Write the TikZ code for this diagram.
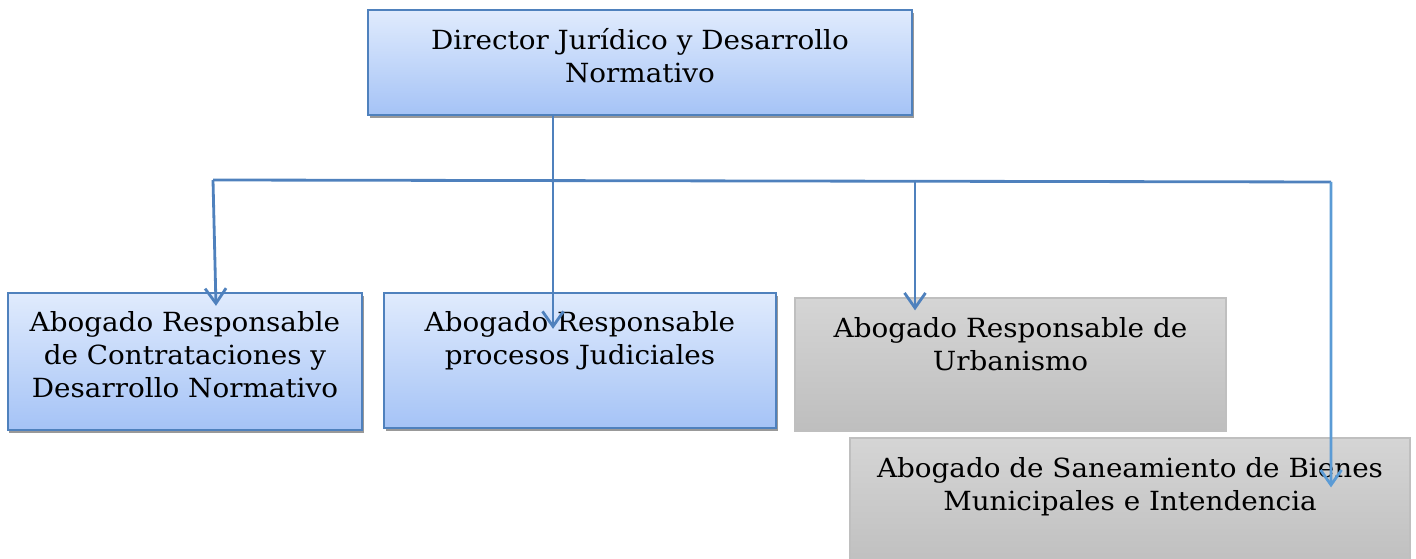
\documentclass[tikz,border=0pt]{standalone}
\usepackage{fontspec}
\setmainfont{DejaVu Serif}[FakeStretch=1.055]
\usetikzlibrary{calc,positioning,shadows,arrows.meta}
\definecolor{boxline}{HTML}{4F81BD}
\definecolor{boxtop}{HTML}{E0EBFD}
\definecolor{boxbot}{HTML}{A5C3F6}
\definecolor{greytop}{HTML}{D5D5D5}
\definecolor{greybot}{HTML}{BEBEBE}
\definecolor{greyline}{HTML}{BFBFBF}
\definecolor{linkdark}{HTML}{4F81BD}
\definecolor{linklight}{HTML}{5B9BD5}
\tikzset{
	bluebox/.style={draw=boxline, line width=1.3pt, top color=boxtop, bottom color=boxbot, inner sep=0pt,
		drop shadow={shadow xshift=0.03cm, shadow yshift=-0.07cm, fill=black!40, opacity=1}},
	greybox/.style={draw=greyline, line width=0.7pt, top color=greytop, bottom color=greybot, inner sep=0pt},
	boxtext/.style={align=center, inner sep=0pt, font=\fontsize{15}{18.8}\selectfont},
	link/.style={draw=linkdark, line width=1.6pt, -{Straight Barb[length=0.3cm, width=0.42cm]}},
	bus/.style={draw=linkdark, line width=1.6pt}
}

\begin{document}
\begin{tikzpicture}
		%%%%% START %%%%%
		\useasboundingbox (0, 0) rectangle (28.32, 11.18);
		
		\node[bluebox, minimum width=10.88cm, minimum height=2.1cm] (dir) at (12.8, 9.93) {};
		\node[boxtext, below=0.39cm of dir.north] (dirtxt) {Director Jurídico y Desarrollo\\Normativo};
		
		\node[bluebox, minimum width=7.08cm, minimum height=2.74cm] (con) at (3.7, 3.95) {};
		\node[boxtext, below=0.39cm of con.north] (contxt) {Abogado Responsable\\de Contrataciones y\\Desarrollo Normativo};
		
		\node[bluebox, minimum width=7.84cm, minimum height=2.7cm] (jud) at (11.6, 3.97) {};
		\node[boxtext, below=0.39cm of jud.north] (judtxt) {Abogado Responsable\\procesos Judiciales};
		
		\node[greybox, minimum width=8.62cm, minimum height=2.66cm] (urb) at (20.21, 3.89) {};
		\node[boxtext, below=0.39cm of urb.north] (urbtxt) {Abogado Responsable de\\Urbanismo};
		
		\node[greybox, minimum width=11.2cm, minimum height=2.7cm] (san) at (22.6, 1.07) {};
		\node[boxtext, below=0.39cm of san.north] (santxt) {Abogado de Saneamiento de Bienes\\Municipales e Intendencia};
		
		\coordinate (busL) at (4.26, 7.58);
		\coordinate (busR) at (26.62, 7.54);
		\coordinate (tipCon) at ($(con.north)+(0.62, -0.28)$);
		\coordinate (tipJud) at ($(jud.north)+(-0.54, -0.74)$);
		\coordinate (tipUrb) at ($(urb.north)+(-1.91, -0.26)$);
		\coordinate (tipSan) at ($(san.north)+(4.02, -1.0)$);
		
		\draw[bus] (busL) -- (busR);
		\draw[link] (dir.south -| tipJud) -- (tipJud);
		\draw[link] (busL) -- (tipCon);
		\draw[link] (busL -| tipUrb) -- (tipUrb);
		\draw[link, draw=linklight] (busR) -- (tipSan);
		%%%%% END %%%%%
\end{tikzpicture}
\end{document}
